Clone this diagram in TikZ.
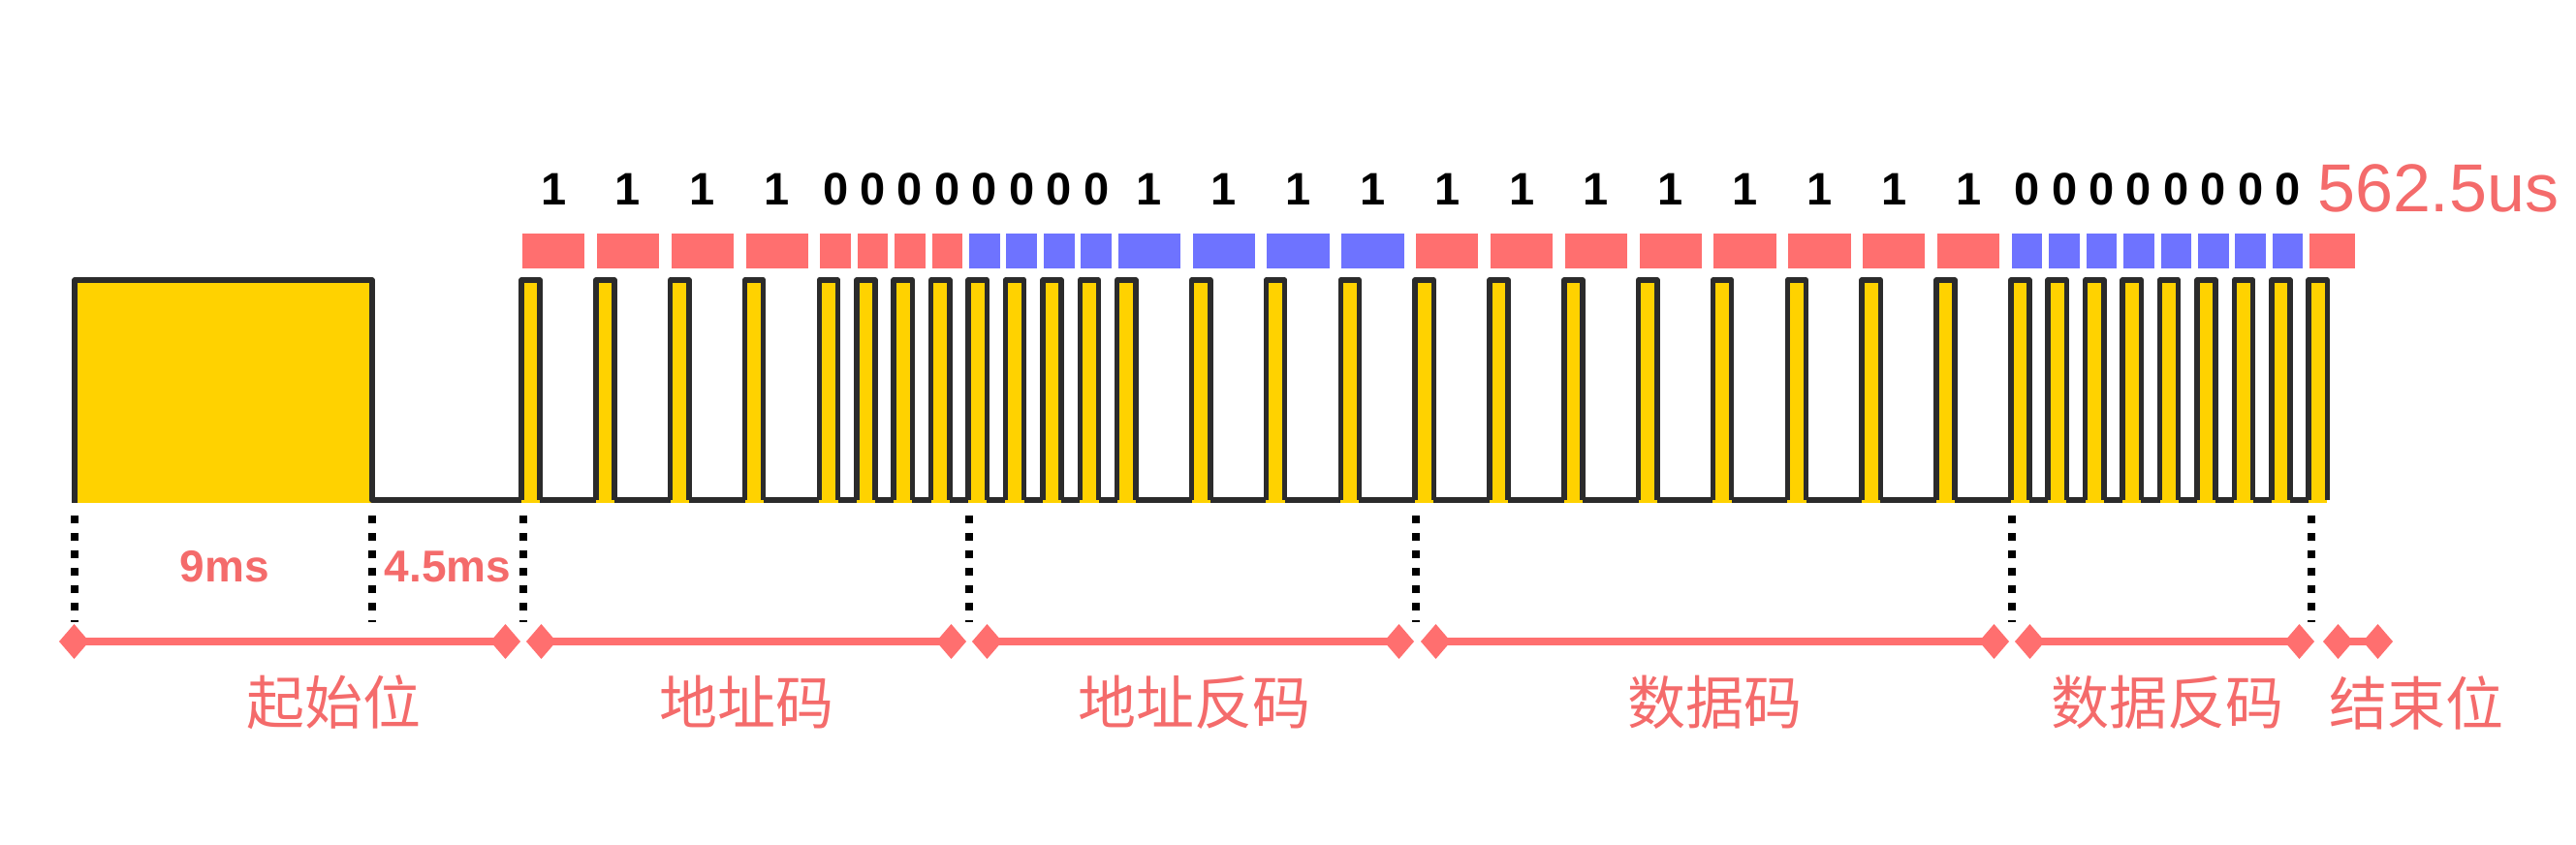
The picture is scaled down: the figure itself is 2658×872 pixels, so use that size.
\documentclass[tikz,border=0pt]{standalone}
\usepackage{fontspec}
\setmainfont{Liberation Sans}
\newfontfamily\cjk{Noto Sans CJK SC}
\usepackage{xcolor}
\usepackage{tikz}
\usetikzlibrary{positioning, arrows.meta, calc}
\definecolor{irred}{HTML}{FF6F6F}
\definecolor{irtext}{HTML}{F46B6B}
\definecolor{irblue}{HTML}{6E73FF}
\definecolor{pulseyellow}{HTML}{FFD200}
\definecolor{wire}{HTML}{2B2B2B}

\tikzset{
  sig/.style={draw=wire, line width=5.5pt, line join=round},
  guide/.style={draw=black, line width=8pt, dash pattern=on 8pt off 10pt},
  span/.style={draw=irred, line width=8pt,
    {Diamond[length=31pt, width=36pt]}-{Diamond[length=31pt, width=36pt]}},
  bitnum/.style={font=\fontsize{47}{50}\selectfont\bfseries, text=black, inner sep=0pt},
  timelbl/.style={font=\fontsize{46}{50}\selectfont\bfseries, text=irtext, inner sep=0pt},
  fieldlbl/.style={font=\cjk\fontsize{60}{66}\selectfont, text=irtext, inner sep=0pt},
  unitlbl/.style={font=\fontsize{70}{74}\selectfont, text=irtext, inner sep=0pt}
}

\begin{document}
\begin{tikzpicture}[x=1pt, y=-1pt]
  \useasboundingbox (0,0) rectangle (2658,872);
  \def\tick{19.21}
  \def\xs{538}
  \pgfmathsetmacro\xe{\xs+96*\tick}

  % leader pulse + base line
  \fill[pulseyellow] (77,289) rectangle (384,519);
  \draw[sig] (77,519) -- (77,289) -- (384,289) -- (384,516) -- (\xe+\tick,516);

  % 32 bits: address, inverse address, data, inverse data
  \def\tpos{0}
  \foreach \b [count=\i] in {1,1,1,1,0,0,0,0, 0,0,0,0,1,1,1,1,
                             1,1,1,1,1,1,1,1, 0,0,0,0,0,0,0,0}{
    \pgfmathsetmacro\xa{\xs+\tpos*\tick}
    \pgfmathsetmacro\cw{(2+2*\b)*\tick}
    \pgfmathtruncatemacro\grp{mod(int((\i-1)/8),2)}
    \ifnum\grp=0 \def\bc{irred}\else\def\bc{irblue}\fi
    \fill[fill=\bc] (\xa+1,241) rectangle (\xa+0.85*\cw,277);
    \node[bitnum] (bit\i) at (\xa+0.425*\cw+0.5,195) {\b};
    \fill[pulseyellow] (\xa,289) rectangle (\xa+\tick,519);
    \draw[sig] (\xa,516) -- (\xa,289) -- (\xa+\tick,289) -- (\xa+\tick,516);
    \pgfmathsetmacro\tnew{\tpos+2+2*\b}
    \xdef\tpos{\tnew}
  }

  % stop pulse
  \fill[irred] (\xe+1,241) rectangle (\xe+48,277);
  \fill[pulseyellow] (\xe,289) rectangle (\xe+\tick,519);
  \draw[sig] (\xe,516) -- (\xe,289) -- (\xe+\tick,289) -- (\xe+\tick,516);
  \node[unitlbl, anchor=west] (unit) at (2391,194) {562.5us};

  % guides
  \foreach \x in {77,384,540,1000,1461,2076,2385}
    \draw[guide] (\x,532) -- (\x,642);
  \node[timelbl] (lead) at (232,585) {9ms};
  \node[timelbl] (space) at (462,585) {4.5ms};

  % field spans
  \foreach \a/\c [count=\k] in {61/537, 543/997, 1003/1459, 1466/2073, 2079/2388, 2397/2469}{
    \coordinate (seg\k a) at (\a,662);
    \coordinate (seg\k b) at (\c,662);
    \draw[span] (seg\k a) -- (seg\k b);
  }
  \node[fieldlbl] (start) at (344,725) {起始位};
  \node[fieldlbl] (addr) at (770,725) {地址码};
  \node[fieldlbl] (naddr) at (1232,725) {地址反码};
  \node[fieldlbl] (data) at (1769,725) {数据码};
  \node[fieldlbl] (ndata) at (2236,725) {数据反码};
  \node[fieldlbl] (stop) at (2493,725) {结束位};
\end{tikzpicture}
\end{document}
